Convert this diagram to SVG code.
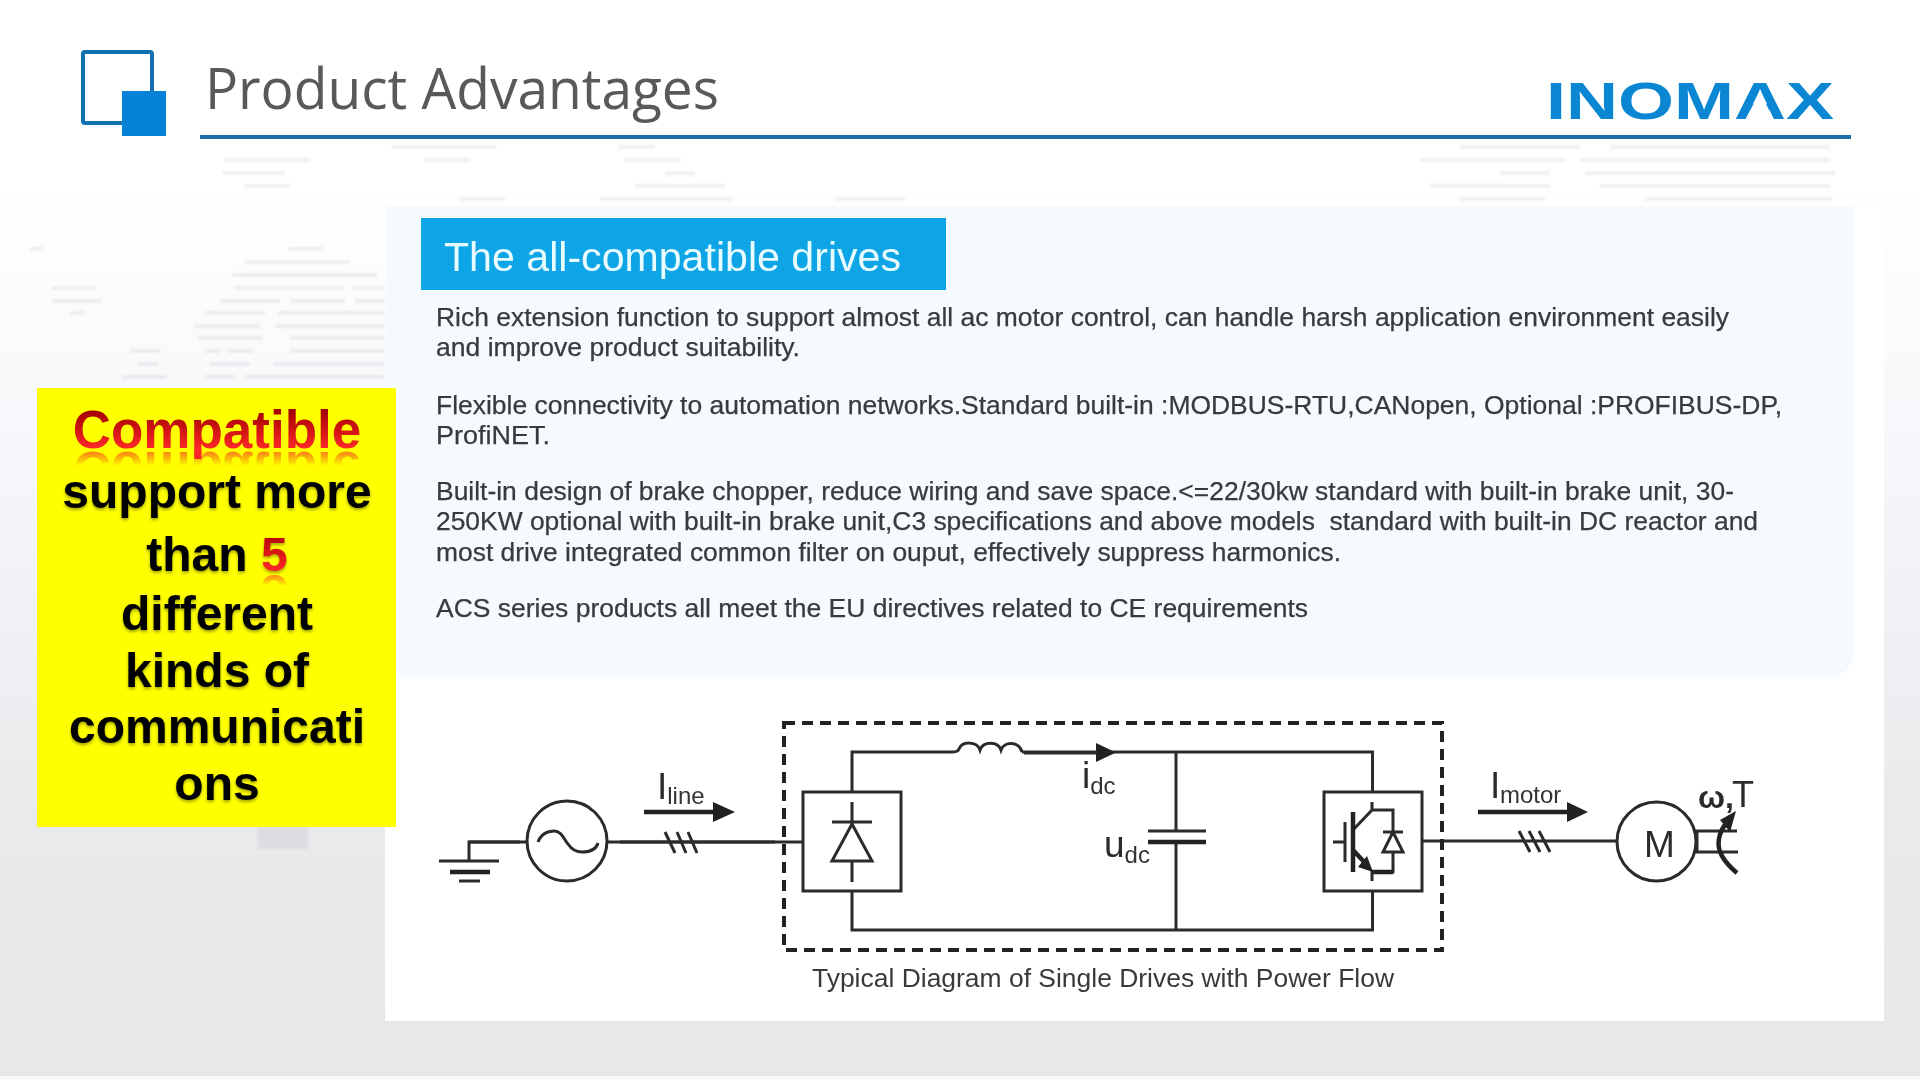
<svg xmlns="http://www.w3.org/2000/svg" xmlns:xlink="http://www.w3.org/1999/xlink" width="1920" height="1080" viewBox="0 0 1920 1080">
<style>
text{font-family:"Liberation Sans",Arial,sans-serif}
.body{font-size:26px;fill:#383a40;stroke:#383a40;stroke-width:.25}
.w{fill:none;stroke:#2b2b2b;stroke-width:3}
.wt{fill:none;stroke:#222;stroke-width:4.5}
.fillk{fill:#222;stroke:none}
.lab{font-size:37px;fill:#2b2b2b}
.sub{font-size:24px;fill:#333}
.call{font-size:48px;font-weight:700;fill:#000;text-anchor:middle}
.ghost rect{fill:#8c8c96;opacity:.13}
</style>
<defs>
<linearGradient id="bg" x1="0" y1="0" x2="0" y2="1">
<stop offset="0" stop-color="#fff"/><stop offset=".17" stop-color="#fff"/><stop offset=".42" stop-color="#f6f7fa"/><stop offset=".75" stop-color="#e9eaec"/><stop offset="1" stop-color="#e6e7e9"/>
</linearGradient>
<linearGradient id="red1" gradientUnits="userSpaceOnUse" x1="0" y1="411" x2="0" y2="450"><stop offset="0" stop-color="#a50000"/><stop offset="1" stop-color="#ff2a2a"/></linearGradient>
<linearGradient id="red2" gradientUnits="userSpaceOnUse" x1="0" y1="533" x2="0" y2="571"><stop offset="0" stop-color="#b00000"/><stop offset="1" stop-color="#ff2a2a"/></linearGradient>
<linearGradient id="fa1" gradientUnits="userSpaceOnUse" x1="0" y1="450" x2="0" y2="466"><stop offset="0" stop-color="#fff" stop-opacity=".65"/><stop offset="1" stop-color="#fff" stop-opacity="0"/></linearGradient>
<linearGradient id="fa2" gradientUnits="userSpaceOnUse" x1="0" y1="573" x2="0" y2="586"><stop offset="0" stop-color="#fff" stop-opacity=".65"/><stop offset="1" stop-color="#fff" stop-opacity="0"/></linearGradient>
<mask id="m1" maskUnits="userSpaceOnUse" x="60" y="450" width="320" height="18"><rect x="60" y="450" width="320" height="18" fill="url(#fa1)"/></mask>
<mask id="m2" maskUnits="userSpaceOnUse" x="258" y="573" width="34" height="14"><rect x="258" y="573" width="34" height="14" fill="url(#fa2)"/></mask>
<filter id="sh" x="-5%" y="-20%" width="110%" height="150%"><feDropShadow dx="0" dy="2" stdDeviation="1.5" flood-color="#000" flood-opacity=".35"/></filter>
<filter id="bl" x="-5%" y="-5%" width="110%" height="110%"><feGaussianBlur stdDeviation="1.3"/></filter>
</defs>

<rect id="background" width="1920" height="1080" fill="url(#bg)"/>
<rect y="1076" width="1920" height="4" fill="#fafafa"/>

<g class="ghost" filter="url(#bl)">
<rect x="392" y="145" width="104" height="4"/><rect x="618" y="145" width="37" height="4"/><rect x="225" y="158" width="85" height="4"/><rect x="425" y="158" width="45" height="4"/><rect x="625" y="158" width="55" height="4"/><rect x="222" y="171" width="63" height="4"/><rect x="665" y="171" width="30" height="4"/><rect x="245" y="184" width="45" height="4"/><rect x="635" y="184" width="90" height="4"/><rect x="460" y="197" width="45" height="4"/><rect x="600" y="197" width="132" height="4"/><rect x="835" y="197" width="70" height="4"/>
<rect x="1460" y="145" width="120" height="4"/><rect x="1610" y="145" width="220" height="4"/><rect x="1420" y="158" width="145" height="4"/><rect x="1580" y="158" width="250" height="4"/><rect x="1500" y="171" width="50" height="4"/><rect x="1585" y="171" width="250" height="4"/><rect x="1430" y="184" width="120" height="4"/><rect x="1600" y="184" width="230" height="4"/><rect x="1460" y="197" width="85" height="4"/><rect x="1645" y="197" width="187" height="4"/>
<rect x="30" y="247" width="14" height="4"/><rect x="288" y="247" width="35" height="4"/><rect x="245" y="260" width="105" height="4"/><rect x="232" y="273" width="145" height="4"/><rect x="52" y="286" width="45" height="4"/><rect x="235" y="286" width="110" height="4"/><rect x="353" y="286" width="32" height="4"/><rect x="52" y="299" width="50" height="4"/><rect x="220" y="299" width="60" height="4"/><rect x="290" y="299" width="55" height="4"/><rect x="355" y="299" width="30" height="4"/><rect x="70" y="311" width="15" height="4"/><rect x="205" y="311" width="60" height="4"/><rect x="278" y="311" width="107" height="4"/><rect x="195" y="324" width="65" height="4"/><rect x="275" y="324" width="110" height="4"/><rect x="198" y="336" width="65" height="4"/><rect x="290" y="336" width="95" height="4"/><rect x="130" y="349" width="30" height="4"/><rect x="205" y="349" width="15" height="4"/><rect x="228" y="349" width="25" height="4"/><rect x="290" y="349" width="95" height="4"/><rect x="138" y="362" width="20" height="4"/><rect x="210" y="362" width="40" height="4"/><rect x="273" y="362" width="112" height="4"/><rect x="122" y="375" width="45" height="4"/><rect x="205" y="375" width="30" height="4"/><rect x="245" y="375" width="140" height="4"/>
<rect x="258" y="827" width="50" height="22"/>
</g>

<g id="title-icon">
<rect x="83" y="52" width="69" height="71" rx="2" fill="none" stroke="#1170b0" stroke-width="4"/>
<rect x="122" y="91" width="44" height="45" fill="#0683d6"/>
</g>
<g id="title">
<text x="205" y="109" font-size="56" fill="#595959" style="font-family:'Open Sans','Noto Sans',sans-serif" textLength="514" lengthAdjust="spacingAndGlyphs">Product Advantages</text>
<rect x="200" y="135" width="1651" height="4" fill="#1a6fa8"/>
</g>
<g id="logo">
<text x="1546" y="119" font-size="52" font-weight="700" fill="#0a86d2" textLength="288" lengthAdjust="spacingAndGlyphs">INOMAX</text>
<path d="M1760 92L1745 120H1774Z" fill="#fff"/>
</g>

<g id="diagram-panel"><rect x="385" y="206" width="1499" height="815" fill="#fff"/></g>
<g id="text-panel">
<path d="M386 206H1854V652a25 25 0 0 1-25 25H410a25 25 0 0 1-24-25Z" fill="#f4fafe"/>
<rect x="421" y="218" width="525" height="72" fill="#0ea5e6"/>
<text x="444" y="271" font-size="40" fill="#e8fbff" textLength="457" lengthAdjust="spacingAndGlyphs">The all-compatible drives</text>
<text class="body" x="436" y="326" textLength="1293" lengthAdjust="spacingAndGlyphs">Rich extension function to support almost all ac motor control, can handle harsh application environment easily</text>
<text class="body" x="436" y="356" textLength="364" lengthAdjust="spacingAndGlyphs">and improve product suitability.</text>
<text class="body" x="436" y="414" textLength="1346" lengthAdjust="spacingAndGlyphs">Flexible connectivity to automation networks.Standard built-in :MODBUS-RTU,CANopen, Optional :PROFIBUS-DP,</text>
<text class="body" x="436" y="444" textLength="114" lengthAdjust="spacingAndGlyphs">ProfiNET.</text>
<text class="body" x="436" y="500" textLength="1298" lengthAdjust="spacingAndGlyphs">Built-in design of brake chopper, reduce wiring and save space.&lt;=22/30kw standard with built-in brake unit, 30-</text>
<text class="body" x="436" y="530" textLength="1322" lengthAdjust="spacingAndGlyphs" xml:space="preserve">250KW optional with built-in brake unit,C3 specifications and above models  standard with built-in DC reactor and</text>
<text class="body" x="436" y="561" textLength="905" lengthAdjust="spacingAndGlyphs">most drive integrated common filter on ouput, effectively suppress harmonics.</text>
<text class="body" x="436" y="617" textLength="872" lengthAdjust="spacingAndGlyphs">ACS series products all meet the EU directives related to CE requirements</text>
</g>

<g id="callout">
<rect x="37" y="388" width="359" height="439" fill="#ffff00"/>
<text id="compat" x="217" y="448" font-size="53" font-weight="700" fill="url(#red1)" text-anchor="middle">Compatible</text>
<g mask="url(#m1)"><use xlink:href="#compat" href="#compat" transform="translate(0 900) scale(1 -1)"/></g>
<g filter="url(#sh)">
<text class="call" x="217" y="508">support more</text>
<text id="than5" class="call" x="217" y="571">than <tspan fill="url(#red2)">5</tspan></text>
<text class="call" x="217" y="630">different</text>
<text class="call" x="217" y="687">kinds of</text>
<text class="call" x="217" y="743">communicati</text>
<text class="call" x="217" y="800">ons</text>
</g>
<g mask="url(#m2)"><use xlink:href="#than5" href="#than5" transform="translate(0 1146) scale(1 -1)"/></g>
</g>

<g id="connectors">
<path class="w" d="M469 861V842H527"/>
<path class="w" d="M469 842H520" stroke-width="4"/>
<path class="w" d="M607 842H802"/>
<path class="w" d="M620 842H775" stroke-width="4"/>
<path class="w" d="M665 832L675 853M677 832L686 853M688 832L697 853"/>
<path class="wt" d="M644 812H716"/>
<path class="fillk" d="M713 802L735 812L713 822Z"/>
<path class="w" d="M852 792V752H952"/>
<path class="w" d="M852 891V930H1372.500V891"/>
<path class="w" d="M1022 752H1372.500V792"/>
<path class="w" d="M1024 753H1098" stroke-width="4"/>
<path class="fillk" d="M1096 743L1116 752.500L1096 762Z"/>
<path class="w" d="M1176 752V831M1176 842V930"/>
<path class="w" d="M1422 841H1617"/>
<path class="w" d="M1519 831L1530 852M1529 831L1540 852M1539 831L1550 852"/>
<path class="wt" d="M1478 812H1570"/>
<path class="fillk" d="M1567 802L1588 812L1567 822Z"/>
<path d="M784 723H1442V950H784Z" fill="none" stroke="#222" stroke-width="4" stroke-dasharray="11 7"/>
</g>

<g id="ground">
<path class="w" d="M439 861H499"/>
<path class="wt" d="M450 872H490"/>
<path class="w" d="M459 881H480"/>
</g>
<g id="source">
<circle class="w" cx="567" cy="841" r="40"/>
<path class="w" d="M538 842C542 832 549 831 554 831C562 831 564 840 568 844C572 850 577 852 582 852C590 852 596 850 598 843"/>
</g>
<g id="i-line"><text class="lab" x="657" y="799">I<tspan class="sub" dy="5">line</tspan></text></g>
<g id="rectifier">
<rect class="w" x="803" y="792" width="98" height="99"/>
<path class="w" d="M852 802V823M852 862V882M832 822H872M852 824L832 861H872Z"/>
</g>
<g id="inductor"><path class="w" d="M952 752C957 752 958 751 959 749C962 741 977 741 980 750C983 741 998 741 1001 750C1004 741 1019 741 1022 752"/></g>
<g id="i-dc"><text class="lab" x="1082" y="788">i<tspan class="sub" dy="6">dc</tspan></text></g>
<g id="capacitor">
<path class="w" d="M1148 831H1206"/>
<path class="wt" d="M1148 842H1206"/>
<text class="lab" x="1104" y="857">u<tspan class="sub" dy="6">dc</tspan></text>
</g>
<g id="inverter">
<rect class="w" x="1324" y="792" width="98" height="99"/>
<path class="w" d="M1333 842H1345M1345 822V862M1353 830L1372 810V802M1372 810H1393V832M1383 832H1403M1393 832L1383 852H1403ZM1393 852V872H1372V881"/>
<path class="wt" d="M1353 812V872M1353 850L1366 864M1372 872H1393"/>
<path class="fillk" d="M1373 872L1358 867L1367 856Z"/>
</g>
<g id="i-motor"><text class="lab" x="1490" y="798">I<tspan class="sub" x="1500" dy="5">motor</tspan></text></g>
<g id="motor">
<circle class="w" cx="1656.500" cy="841.500" r="39.500"/>
<text class="lab" x="1644" y="857">M</text>
<path class="w" d="M1693 831H1737M1693 852H1738"/>
<path class="w" d="M1697 831V852"/>
<path class="wt" d="M1727 822C1718 833 1716 846 1722 856C1726 863 1731 868 1737 873"/>
<path class="fillk" d="M1736 811L1730 832L1720 820Z"/>
<text class="lab" x="1698" y="808" font-size="32" style="font-size:32px;font-weight:700">ω,<tspan x="1732" y="807" style="font-size:36px;font-weight:400">T</tspan></text>
</g>
<g id="caption"><text x="812" y="987" font-size="26" fill="#3a3a3a" textLength="582" lengthAdjust="spacingAndGlyphs">Typical Diagram of Single Drives with Power Flow</text></g>
</svg>
